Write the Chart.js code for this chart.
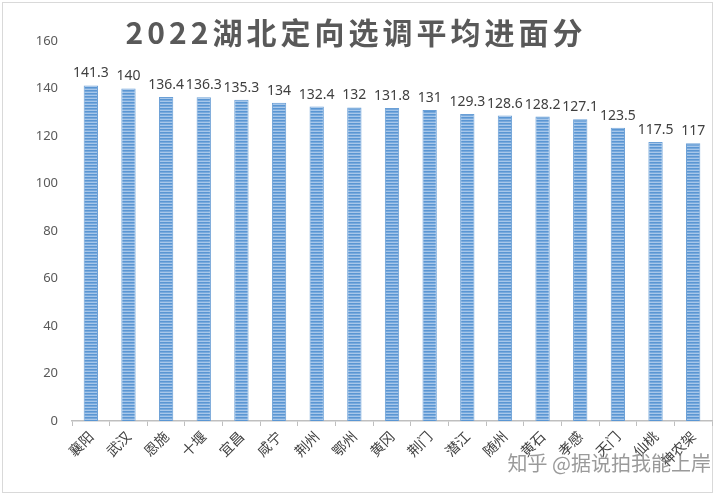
<!DOCTYPE html>
<html>
<head>
<meta charset="utf-8">
<script src="https://cdn.jsdelivr.net/npm/chart.js@4"></script>
<style>
  html, body { margin: 0; padding: 0; background: #fff; }
  #wrap { width: 715px; height: 495px; }
</style>
</head>
<body>
<div id="wrap"><canvas id="scoreChart" width="715" height="495"></canvas></div>
<script>
// ---- data ----
const cities = ["襄阳", "武汉", "恩施", "十堰", "宜昌", "咸宁", "荆州", "鄂州", "黄冈",
                "荆门", "潜江", "随州", "黄石", "孝感", "天门", "仙桃", "神农架"];
const avgScores = [141.3, 140, 136.4, 136.3, 135.3, 134, 132.4, 132, 131.8,
                   131, 129.3, 128.6, 128.2, 127.1, 123.5, 117.5, 117];
const yTicks = [0, 20, 40, 60, 80, 100, 120, 140, 160];

const titleText = "2022湖北定向选调平均进面分";
const markText = "知乎 @据说拍我能上岸";

// striped fill like the original (thin horizontal lines)
function stripePattern(ctx) {
  const c = document.createElement("canvas");
  c.width = 4; c.height = 3;
  const p = c.getContext("2d");
  p.fillStyle = "#a7c7ea";
  p.fillRect(0, 0, 4, 3);
  p.fillStyle = "#5a96d3";
  p.fillRect(0, 0, 4, 1.6);
  return ctx.createPattern(c, "repeat");
}

const ctx = document.getElementById("scoreChart").getContext("2d");

// title, value labels, frame and corner mark
const decorPlugin = {
  id: "decor",
  beforeDraw(chart) {
    const c = chart.ctx;
    c.save();
    c.fillStyle = "#fff";
    c.fillRect(0, 0, chart.width, chart.height);
    c.strokeStyle = "#d9d9d9";
    c.lineWidth = 1;
    c.strokeRect(2.5, 2.5, chart.width - 5, chart.height - 5);
    c.restore();
  },
  afterDatasetsDraw(chart) {
    const c = chart.ctx;
    const meta = chart.getDatasetMeta(0);
    c.save();
    c.font = "14px 'Noto Sans', 'Noto Sans CJK SC', sans-serif";
    c.fillStyle = "#404040";
    c.textAlign = "center";
    c.textBaseline = "bottom";
    meta.data.forEach((bar, i) => {
      c.fillText(String(avgScores[i]), bar.x, bar.y - 5);
    });

    c.font = "bold 30px 'Noto Sans CJK SC', sans-serif";
    c.letterSpacing = "4px";
    c.fillStyle = "#595959";
    c.textBaseline = "middle";
    c.fillText(titleText, 356, 33);
    c.letterSpacing = "0px";

    c.font = "20px 'Noto Sans CJK SC', sans-serif";
    c.fillStyle = "rgba(120,120,120,0.75)";
    c.textAlign = "right";
    c.fillText(markText, 711, 463);
    c.restore();
  }
};

new Chart(ctx, {
  type: "bar",
  data: {
    labels: cities,
    datasets: [{
      data: avgScores,
      backgroundColor: stripePattern(ctx),
      borderColor: "#6a9fd6",
      borderWidth: 1,
      categoryPercentage: 1,
      barPercentage: 0.38
    }]
  },
  options: {
    responsive: false,
    animation: false,
    layout: { padding: { left: 8, right: 3, top: 41, bottom: 6 } },
    plugins: {
      legend: { display: false },
      tooltip: { enabled: false }
    },
    scales: {
      y: {
        min: 0,
        max: 160,
        afterBuildTicks(axis) { axis.ticks = yTicks.map(v => ({ value: v })); },
        grid: { display: false, drawTicks: false },
        border: { display: false },
        ticks: {
          color: "#595959",
          padding: 14,
          font: { size: 13, family: "'Noto Sans', sans-serif" }
        },
        afterFit(axis) { axis.width = 64; }
      },
      x: {
        grid: {
          display: true,
          drawOnChartArea: false,
          drawTicks: true,
          tickLength: 5,
          color: "#bfbfbf",
          offset: true
        },
        border: { display: true, color: "#bfbfbf", width: 1.5 },
        ticks: {
          color: "#404040",
          maxRotation: 45,
          minRotation: 45,
          autoSkip: false,
          padding: 2,
          font: { size: 14, family: "'Noto Sans CJK SC', sans-serif" }
        },
        afterFit(axis) { axis.height = 68; }
      }
    }
  },
  plugins: [decorPlugin]
});
</script>
</body>
</html>
